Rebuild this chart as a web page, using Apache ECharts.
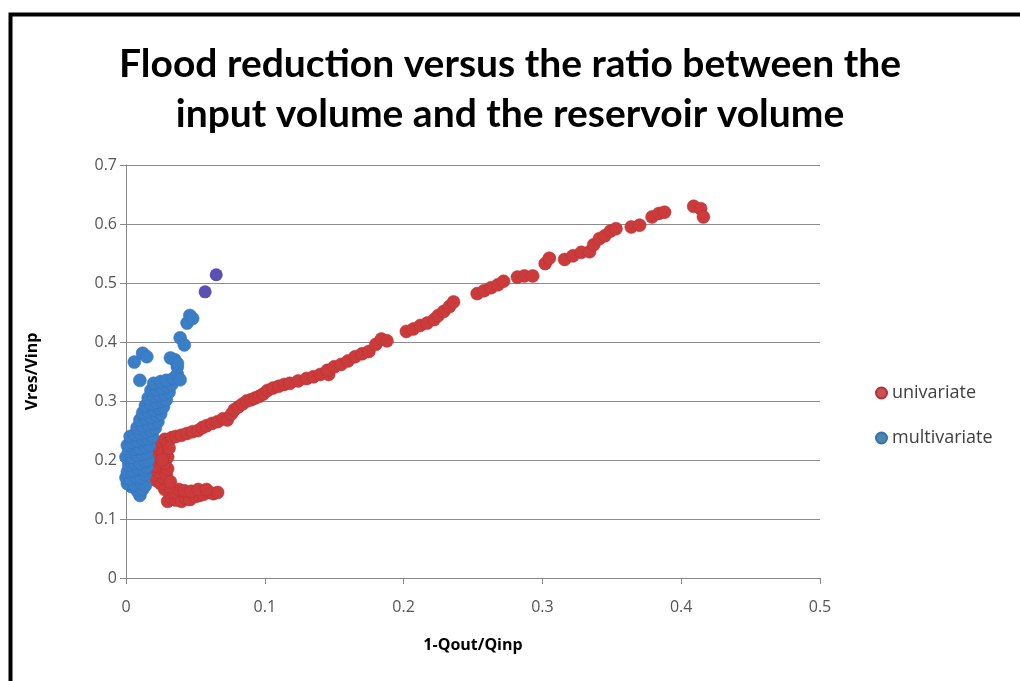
<!DOCTYPE html>
<html>
<head>
<meta charset="utf-8">
<script src="https://cdn.jsdelivr.net/npm/echarts@6/dist/echarts.min.js"></script>
<style>html,body{margin:0;padding:0;background:#fff;}#c{width:1020px;height:681px;}</style>
</head>
<body>
<div id="c"></div>
<script>
const titleLines = ["Flood reduction versus the ratio between the", "input volume and the reservoir volume"];
const xName = "1-Qout/Qinp";
const yName = "Vres/Vinp";
const seriesNames = ["univariate", "multivariate"];
const xTicks = [0, 0.1, 0.2, 0.3, 0.4, 0.5];
const yTicks = [0, 0.1, 0.2, 0.3, 0.4, 0.5, 0.6, 0.7];

const univariate = [
  [0.030,0.130],[0.033,0.135],[0.036,0.132],[0.040,0.130],[0.043,0.135],[0.046,0.133],[0.050,0.138],[0.053,0.140],
  [0.056,0.142],[0.060,0.145],[0.063,0.143],[0.066,0.145],[0.034,0.145],[0.038,0.150],[0.042,0.148],[0.047,0.147],
  [0.052,0.150],[0.058,0.150],[0.028,0.150],[0.031,0.155],[0.025,0.160],[0.022,0.165],[0.027,0.170],[0.020,0.175],
  [0.024,0.180],[0.018,0.185],[0.021,0.190],[0.019,0.200],[0.023,0.205],[0.020,0.212],[0.024,0.218],[0.022,0.225],
  [0.026,0.230],[0.028,0.235],[0.030,0.228],[0.033,0.238],[0.036,0.240],[0.040,0.242],[0.044,0.245],[0.048,0.248],
  [0.029,0.175],[0.030,0.185],[0.028,0.195],[0.030,0.205],[0.027,0.212],[0.031,0.220],[0.032,0.163],[0.026,0.200],
  [0.052,0.250],[0.055,0.255],[0.058,0.258],[0.062,0.262],[0.066,0.265],[0.070,0.270],[0.073,0.268],[0.076,0.278],
  [0.078,0.285],[0.081,0.290],[0.084,0.295],[0.087,0.300],[0.090,0.302],[0.093,0.305],[0.096,0.308],[0.099,0.312],
  [0.102,0.318],[0.106,0.322],[0.110,0.325],[0.114,0.328],[0.118,0.330],[0.124,0.334],[0.130,0.338],[0.135,0.341],
  [0.140,0.345],[0.146,0.345],[0.145,0.352],[0.150,0.358],[0.155,0.362],[0.160,0.368],[0.165,0.375],[0.170,0.380],
  [0.175,0.384],[0.180,0.396],[0.184,0.405],[0.188,0.402],[0.202,0.418],[0.207,0.422],[0.212,0.428],[0.217,0.432],
  [0.222,0.438],[0.225,0.445],[0.229,0.452],[0.233,0.460],[0.236,0.468],[0.253,0.482],[0.258,0.487],[0.263,0.492],
  [0.268,0.497],[0.272,0.503],[0.282,0.510],[0.287,0.512],[0.293,0.512],[0.302,0.533],[0.305,0.542],[0.316,0.540],
  [0.322,0.546],[0.328,0.552],[0.334,0.553],[0.337,0.565],[0.341,0.575],[0.345,0.580],[0.349,0.588],[0.353,0.592],
  [0.364,0.595],[0.370,0.598],[0.379,0.612],[0.384,0.618],[0.388,0.620],[0.409,0.630],[0.414,0.626],[0.416,0.612]
];

const multivariate = [
  [0.010,0.140],[0.008,0.148],[0.012,0.150],[0.004,0.155],[0.001,0.160],[0.006,0.158],[0.011,0.160],[0.014,0.157],
  [0.000,0.170],[0.003,0.168],[0.007,0.172],[0.011,0.170],[0.014,0.175],[0.001,0.180],[0.005,0.182],[0.009,0.185],
  [0.013,0.183],[0.015,0.188],[0.002,0.192],[0.006,0.195],[0.010,0.195],[0.014,0.198],[0.016,0.200],
  [0.000,0.205],[0.004,0.205],[0.008,0.208],[0.012,0.210],[0.015,0.212],[0.002,0.215],[0.006,0.218],[0.010,0.220],
  [0.014,0.222],[0.017,0.225],[0.001,0.225],[0.004,0.230],[0.008,0.232],[0.012,0.235],[0.016,0.236],[0.019,0.240],
  [0.003,0.240],[0.006,0.243],
  [0.010,0.245],[0.014,0.248],[0.018,0.250],[0.021,0.254],[0.008,0.255],[0.012,0.258],[0.016,0.260],[0.020,0.262],
  [0.023,0.265],[0.010,0.268],[0.014,0.270],[0.018,0.272],[0.022,0.275],[0.025,0.278],[0.012,0.280],
  [0.016,0.283],[0.020,0.285],[0.024,0.288],[0.027,0.290],[0.014,0.292],[0.018,0.295],[0.022,0.298],[0.026,0.300],
  [0.029,0.302],[0.016,0.305],[0.020,0.308],[0.024,0.310],[0.028,0.312],[0.031,0.315],[0.018,0.318],[0.022,0.320],
  [0.026,0.322],[0.030,0.325],[0.033,0.328],[0.020,0.330],[0.025,0.333],[0.029,0.335],[0.034,0.338],[0.010,0.335],
  [0.037,0.345],[0.039,0.336],[0.037,0.358],[0.035,0.370],[0.032,0.373],[0.037,0.364],
  [0.006,0.366],[0.012,0.381],[0.015,0.375],[0.039,0.407],[0.042,0.395],[0.044,0.432],[0.046,0.445],[0.048,0.440]
];

const multivariateHigh = [[0.057,0.485],[0.065,0.514]];

const RED = "#cc3b3b";
const BLUE = "#3b7ec8";
const PURPLE = "#5a4fb5";
const FONT = "Lato";
const FONT2 = "Open Sans";

const chart = echarts.init(document.getElementById('c'), null, {renderer: 'canvas'});
chart.setOption({
  backgroundColor: '#ffffff',
  animation: false,
  textStyle: {fontFamily: FONT},
  title: {
    text: titleLines.join('\n'),
    left: 'center',
    top: 34,
    textStyle: {fontFamily: FONT, fontWeight: 'bold', fontSize: 39, lineHeight: 50, color: '#000'}
  },
  graphic: [{
    type: 'rect', left: 8, top: 12, silent: true, z: 100,
    shape: {width: 1100, height: 800},
    style: {fill: 'none', stroke: '#000', lineWidth: 4}
  }],
  legend: {
    orient: 'vertical',
    left: 870,
    top: 379,
    itemGap: 27,
    itemWidth: 11,
    itemHeight: 11,
    itemTextGap: 6,
    icon: 'circle',
    textStyle: {fontFamily: FONT2, fontSize: 18, color: '#404040'},
    data: [
      {name: seriesNames[0], itemStyle: {color: '#c8505a'}},
      {name: seriesNames[1], itemStyle: {color: '#4a88a8'}}
    ]
  },
  grid: {left: 126, right: 200, top: 165, bottom: 103, containLabel: false},
  xAxis: {
    type: 'value', min: xTicks[0], max: xTicks[xTicks.length-1], interval: 0.1,
    name: xName, nameLocation: 'middle', nameGap: 59,
    nameTextStyle: {fontFamily: FONT2, fontWeight: 'bold', fontSize: 16, color: '#000'},
    axisLine: {show: true, lineStyle: {color: '#888', width: 1}},
    axisTick: {show: true, length: 6, lineStyle: {color: '#888'}},
    axisLabel: {fontFamily: FONT2, fontSize: 16, color: '#555', margin: 21},
    splitLine: {show: false}
  },
  yAxis: {
    type: 'value', min: yTicks[0], max: yTicks[yTicks.length-1], interval: 0.1,
    name: yName, nameLocation: 'middle', nameGap: 86,
    nameTextStyle: {fontFamily: FONT2, fontWeight: 'bold', fontSize: 16, color: '#000'},
    axisLine: {show: true, lineStyle: {color: '#888', width: 1}},
    axisTick: {show: true, length: 6, lineStyle: {color: '#888'}},
    axisLabel: {fontFamily: FONT2, fontSize: 16, color: '#555', margin: 9},
    splitLine: {show: true, lineStyle: {color: '#8c8c8c', width: 1}}
  },
  series: [
    {name: seriesNames[0], type: 'scatter', data: univariate, symbolSize: 13,
     itemStyle: {color: RED, borderColor: '#b83030', borderWidth: 0.5, opacity: 1}},
    {name: seriesNames[1], type: 'scatter', data: multivariate, symbolSize: 13,
     itemStyle: {color: BLUE, borderColor: '#3470b5', borderWidth: 0.5, opacity: 1}},
    {name: 'multivariateHigh', type: 'scatter', data: multivariateHigh, symbolSize: 13,
     itemStyle: {color: PURPLE, opacity: 1}}
  ]
});
</script>
</body>
</html>
